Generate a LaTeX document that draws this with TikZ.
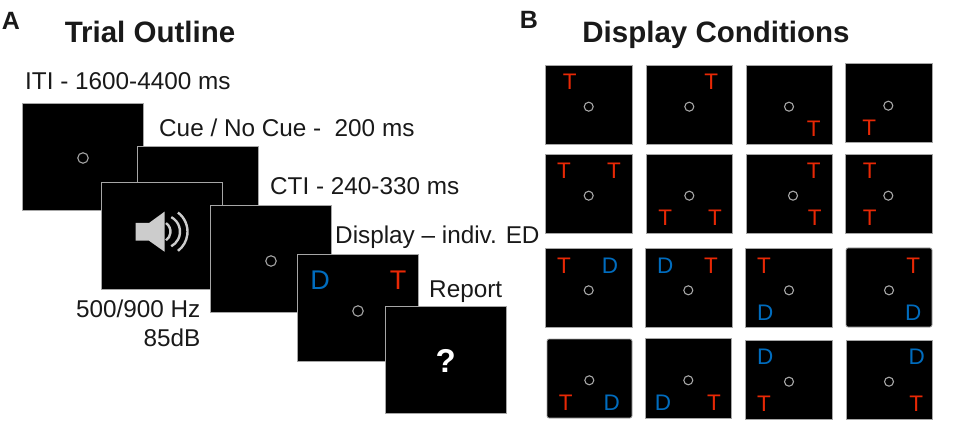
\documentclass[tikz,border=0pt]{standalone}
\usepackage{fontspec}
\setmainfont{Liberation Sans}
\usepackage{tikz}
\definecolor{tred}{RGB}{232,40,5}
\definecolor{dblue}{RGB}{0,108,190}

\begin{document}
\begin{tikzpicture}[
    x=1pt, y=-1pt,
    screen/.style={draw=black!35, fill=black, rectangle, line width=0.9pt, inner sep=0pt, minimum width=121pt, minimum height=107pt},
    cell/.style={draw=black!35, fill=black, rectangle, line width=0.8pt, inner sep=0pt, minimum width=87pt, minimum height=79pt},
    fix/.style={draw=black!35, circle, line width=1.1pt, inner sep=0pt, minimum size=9pt},
    fixa/.style={fix, minimum size=10.5pt},
    lab/.style={anchor=base west, inner sep=0pt, font=\fontsize{24.3}{29}\selectfont, text=black!90},
    head/.style={anchor=base, inner sep=0pt, font=\bfseries\fontsize{29.5}{34}\selectfont, text=black!90},
    tgt/.style={inner sep=0pt, text=tred, font=\fontsize{22.5}{22}\selectfont},
    dis/.style={inner sep=0pt, text=dblue, font=\fontsize{22.5}{22}\selectfont}
]
    \useasboundingbox (0,0) rectangle (957,443);

    % Panel letters and titles
    \node[head, font=\bfseries\fontsize{25}{28}\selectfont] (pa) at (11,29.5) {A};
    \node[head, font=\bfseries\fontsize{25}{28}\selectfont] (pb) at (529,28.5) {B};
    \node[head] (trial) at (150,43) {Trial Outline};
    \node[head] (cond) at (716,43) {Display Conditions};

    % Trial sequence
    \node[screen] (iti) at (83,157) {};
    \node[fixa] (iti_f) at (83,158) {};
    \node[screen] (cue) at (198,200) {};
    \node[screen] (snd) at (161.5,236) {};
    \fill[black!20] (135.7,223) -- (149,223) -- (164.5,211.7) -- (164.5,251.7) -- (149,240.7) -- (135.7,240.7) -- cycle;
    \draw[black!20, line width=2.4pt] (160,231.7) ++(55:10.5pt) arc[start angle=55, end angle=-55, radius=10.5pt];
    \draw[black!20, line width=2.4pt] (163.5,231.7) ++(62:16.5pt) arc[start angle=62, end angle=-62, radius=16.5pt];
    \draw[black!20, line width=2.4pt] (163.5,231.7) ++(53:24pt) arc[start angle=53, end angle=-53, radius=24pt];
    \node[screen] (cti) at (270.5,258.5) {};
    \node[fixa] (cti_f) at (271,261) {};
    \node[screen] (disp) at (357.5,307.5) {};
    \node[fixa] (disp_f) at (358,311) {};
    \node[dis, font=\fontsize{27}{27}\selectfont] (disp_d) at (320,280) {D};
    \node[tgt, font=\fontsize{27}{27}\selectfont] (disp_t) at (398,280) {T};
    \node[screen] (rep) at (445.5,360) {};
    \node[inner sep=0pt, text=white, font=\bfseries\fontsize{33}{33}\selectfont] (rep_q) at (445.7,361) {?};

    \node[lab] (iti_l) at (25,90) {ITI - 1600-4400 ms};
    \node[lab] (cue_l) at (159,137) {Cue / No Cue -\ \ 200 ms};
    \node[lab] (cti_l) at (270,195) {CTI - 240-330 ms};
    \node[lab] (disp_l) at (335,244) {Display -- indiv. ED};
    \node[lab] (rep_l) at (429,297) {Report};
    \node[lab, anchor=north east, align=right] (snd_l) at (200.5,300) {500/900 Hz\\85dB};

    % Display conditions, row 1
    \node[cell] (c11) at (588.5,104.5) {};
    \node[fix] at (588.7,106.7) (f11) {};
    \node[tgt] at (569.7,81.7) (t11) {T};
    \node[cell, minimum width=86pt] (c12) at (689.5,104.5) {};
    \node[fix] at (689.3,106.7) (f12) {};
    \node[tgt] at (711.3,81.7) (t12) {T};
    \node[cell, minimum width=86pt] (c13) at (789.5,104.5) {};
    \node[fix] at (789,106.7) (f13) {};
    \node[tgt] at (813.7,129) (t13) {T};
    \node[cell] (c14) at (888.5,102.5) {};
    \node[fix] at (888.3,105.7) (f14) {};
    \node[tgt] at (869.3,127.7) (t14) {T};

    % row 2
    \node[cell] (c21) at (588.5,194) {};
    \node[fix] at (588.7,195.7) (f21) {};
    \node[tgt] at (564,171) (t21) {T};
    \node[tgt] at (614,171) (u21) {T};
    \node[cell, minimum width=86pt] (c22) at (689.5,194) {};
    \node[fix] at (689.3,195.7) (f22) {};
    \node[tgt] at (665.3,218) (t22) {T};
    \node[tgt] at (715,218) (u22) {T};
    \node[cell, minimum width=86pt] (c23) at (789.5,194) {};
    \node[fix] at (793,195.7) (f23) {};
    \node[tgt] at (813.7,171) (t23) {T};
    \node[tgt] at (814.7,218) (u23) {T};
    \node[cell] (c24) at (888.5,194) {};
    \node[fix] at (888.3,195.7) (f24) {};
    \node[tgt] at (869.7,171) (t24) {T};
    \node[tgt] at (869.7,218) (u24) {T};

    % row 3
    \node[cell] (c31) at (588.5,287.5) {};
    \node[fix] at (588.7,290.3) (f31) {};
    \node[tgt] at (564,265.3) (t31) {T};
    \node[dis] at (610,265.3) (d31) {D};
    \node[cell] (c32) at (688.5,287.5) {};
    \node[fix] at (688.3,290.3) (f32) {};
    \node[dis] at (665.3,265.3) (d32) {D};
    \node[tgt] at (711,265.3) (t32) {T};
    \node[cell] (c33) at (788.5,287.5) {};
    \node[fix] at (789,290.3) (f33) {};
    \node[tgt] at (764,265.3) (t33) {T};
    \node[dis] at (765.3,312.3) (d33) {D};
    \node[cell, minimum width=86pt, rounded corners=2pt] (c34) at (889,287.5) {};
    \node[fix] at (889,290.3) (f34) {};
    \node[tgt] at (913.3,265.3) (t34) {T};
    \node[dis] at (913.3,312.3) (d34) {D};

    % row 4
    \node[cell, minimum width=85pt, rounded corners=2pt] (c41) at (589.5,378.5) {};
    \node[fix] at (589.3,380.3) (f41) {};
    \node[tgt] at (565.7,402.3) (t41) {T};
    \node[dis] at (611.7,402.3) (d41) {D};
    \node[cell, minimum width=86pt, minimum height=80pt] (c42) at (688,378) {};
    \node[fix] at (688.3,380.3) (f42) {};
    \node[dis] at (663,402.3) (d42) {D};
    \node[tgt] at (714,402.3) (t42) {T};
    \node[cell] (c43) at (788.5,379.5) {};
    \node[fix] at (789,381.7) (f43) {};
    \node[dis] at (765.3,357) (d43) {D};
    \node[tgt] at (764,404) (t43) {T};
    \node[cell, minimum width=86pt] (c44) at (889,379.5) {};
    \node[fix] at (889,381.7) (f44) {};
    \node[dis] at (916.7,357) (d44) {D};
    \node[tgt] at (916.3,404) (t44) {T};

\end{tikzpicture}
\end{document}
